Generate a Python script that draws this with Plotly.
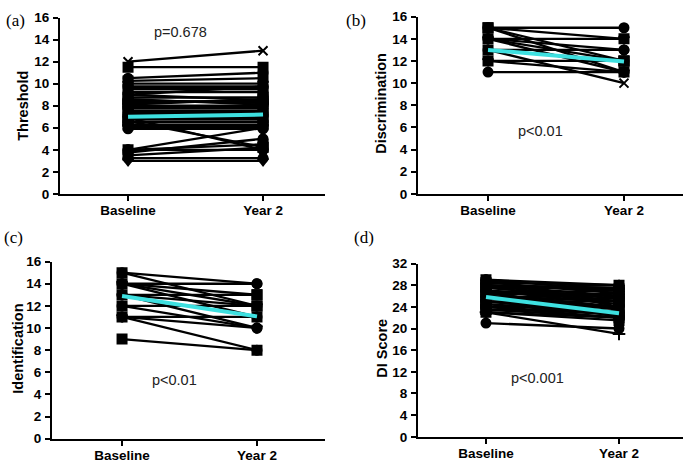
import plotly.graph_objects as go

categories = ["Baseline", "Year 2"]

# Panel (a) Threshold: paired values per subject
thr_base = [12, 11.5, 10.5, 10.25, 10, 9.75, 9.5, 9, 9, 8.75, 8.5, 8.25, 8, 7.75, 7.5,
            7.25, 7, 6.75, 6.5, 6.25, 6, 6.9, 6.6, 4, 3.75, 4, 4, 3.5, 3, 3.25, 8.1, 8.6,
            9.25, 7.9, 7.4, 6.9, 6.1, 5.9, 8.4, 9.6]
thr_year2 = [13, 11.5, 11, 10.5, 10, 9.75, 9.5, 9.75, 8.5, 8.75, 8.25, 8.5, 8, 7.75, 7.5,
             7.25, 7, 6.75, 6.5, 6.25, 6, 4, 4.25, 6, 5, 4.5, 4, 4.2, 3, 3.25, 8.6, 8.1,
             9.25, 7.9, 7.4, 6.9, 6.1, 5.9, 8.4, 9.6]
thr_mean = [7.0, 7.2]

# Panel (b) Discrimination
dis_base = [15, 15, 15, 15, 14, 14, 14, 14, 13, 13, 13, 12, 12, 11]
dis_year2 = [15, 14, 12, 11, 14, 13, 12, 11, 13, 12, 10, 12, 11, 11]
dis_mean = [13.0, 11.95]

# Panel (c) Identification
ide_base = [15, 15, 14, 14, 14, 14, 13, 13, 13, 12, 12, 11, 11, 11, 9]
ide_year2 = [14, 12, 14, 13, 12, 11, 13, 12, 10, 12, 10, 11, 10, 8, 8]
ide_mean = [12.9, 11.05]

# Panel (d) DI Score
dis_score_base = [29, 29, 28.5, 28, 28, 27.5, 27, 27, 26.5, 26, 26, 25.5, 25, 25, 24.5,
                  24, 24, 23.5, 23, 23, 23, 21, 28, 27, 26, 25, 29, 24.5, 26.5, 27.5,
                  28.5, 27, 26, 25, 24, 23.5, 25.5, 26.5, 27.5, 28]
dis_score_year2 = [28, 27, 28, 27, 26, 27.5, 26, 25, 26, 25, 24, 25.5, 24, 23, 23,
                   24, 22, 23, 22, 21.5, 19, 20, 25, 22, 23, 22.5, 24, 22.5, 27, 25.5,
                   26.5, 24.5, 23.5, 25, 22.5, 22, 26.5, 24, 28, 27.5]
dis_score_mean = [25.8, 22.8]

W, H = 696, 469

def px_x(p):
    return p / W

def px_y(p):
    return 1 - p / H

panels = [
    dict(b=thr_base, y2=thr_year2, m=thr_mean, title="Threshold", yr=[0, 16], dt=2,
         xd=(60, 325), yd=(193, 11), xr=[-0.504, 1.459], lab="(a)", labpos=(4, 14),
         p="p=0.678", ppos=(181, 26), tpos=(23, 102)),
    dict(b=dis_base, y2=dis_year2, m=dis_mean, title="Discrimination", yr=[0, 16], dt=2,
         xd=(418, 683), yd=(193, 10), xr=[-0.515, 1.434], lab="(b)", labpos=(344, 14),
         p="p<0.01", ppos=(540, 128), tpos=(381, 100)),
    dict(b=ide_base, y2=ide_year2, m=ide_mean, title="Identification", yr=[0, 16], dt=2,
         xd=(52, 325), yd=(446, 263), xr=[-0.519, 1.504], lab="(c)", labpos=(2, 238),
         p="p<0.01", ppos=(174, 385), tpos=(18, 353)),
    dict(b=dis_score_base, y2=dis_score_year2, m=dis_score_mean, title="DI Score", yr=[0, 32], dt=4,
         xd=(418, 683), yd=(444, 265), xr=[-0.511, 1.481], lab="(d)", labpos=(352, 238),
         p="p<0.001", ppos=(537, 383), tpos=(382, 353)),
]

symbols = ["circle", "square", "circle", "square", "triangle-down", "circle", "square", "circle-open"]

fig = go.Figure()
annotations = []

for i, pn in enumerate(panels):
    k = "" if i == 0 else str(i + 1)
    xa, ya = "x" + k, "y" + k
    for j, (b, y2) in enumerate(zip(pn["b"], pn["y2"])):
        sym = symbols[j % len(symbols)]
        if j == 0 and i == 0:
            sym = "x-thin"
        if i == 1 and j == 10:
            sym = "x-thin"
        if i == 3 and j == 20:
            sym = "cross-thin"
        fig.add_trace(go.Scatter(
            x=[0, 1], y=[b, y2], mode="lines+markers", xaxis=xa, yaxis=ya,
            line=dict(color="black", width=2.3),
            marker=dict(symbol=sym, size=9, color="black",
                        line=dict(color="black", width=2)),
            showlegend=False, hoverinfo="skip"))
    fig.add_trace(go.Scatter(
        x=[0, 1], y=pn["m"], mode="lines", xaxis=xa, yaxis=ya,
        line=dict(color="#3ee0e0", width=4), showlegend=False, hoverinfo="skip"))

    fig.layout["xaxis" + k] = dict(
        domain=[px_x(pn["xd"][0]), px_x(pn["xd"][1])], range=pn["xr"], anchor=ya,
        tickvals=[0, 1], ticktext=categories, showline=True, linecolor="black", linewidth=2,
        ticks="outside", ticklen=5, tickwidth=2, tickcolor="black", showgrid=False,
        zeroline=False, ticklabelstandoff=-2,
        tickfont=dict(family="Liberation Sans, Arial", size=13.5, color="black", weight="bold"))
    fig.layout["yaxis" + k] = dict(
        domain=[px_y(pn["yd"][0]), px_y(pn["yd"][1])], range=pn["yr"], anchor=xa,
        dtick=pn["dt"], tick0=0, showline=True, linecolor="black", linewidth=2,
        ticks="outside", ticklen=5, tickwidth=2, tickcolor="black", showgrid=False,
        zeroline=False, ticklabelstandoff=1,
        tickfont=dict(family="Liberation Sans, Arial", size=13.5, color="black", weight="bold"))

    annotations.append(dict(text=pn["lab"], x=px_x(pn["labpos"][0]), y=px_y(pn["labpos"][1]),
                            xref="paper", yref="paper", xanchor="left", yanchor="middle",
                            showarrow=False,
                            font=dict(family="Liberation Serif, Times New Roman", size=17,
                                      color="black")))
    annotations.append(dict(text=pn["p"], x=px_x(pn["ppos"][0]), y=px_y(pn["ppos"][1]),
                            xref="paper", yref="paper", xanchor="center", yanchor="middle",
                            showarrow=False,
                            font=dict(family="Liberation Sans, Arial", size=14.5, color="#222")))
    annotations.append(dict(text="<b>" + pn["title"] + "</b>", x=px_x(pn["tpos"][0]),
                            y=px_y(pn["tpos"][1]), xref="paper", yref="paper",
                            xanchor="center", yanchor="middle", textangle=-90, showarrow=False,
                            font=dict(family="Liberation Sans, Arial", size=14.5, color="black")))

fig.update_layout(width=W, height=H, margin=dict(l=0, r=0, t=0, b=0),
                  paper_bgcolor="white", plot_bgcolor="white", annotations=annotations)

fig.write_html("out.html", config={"displayModeBar": False},
               post_script="document.body.style.margin='0px';")
